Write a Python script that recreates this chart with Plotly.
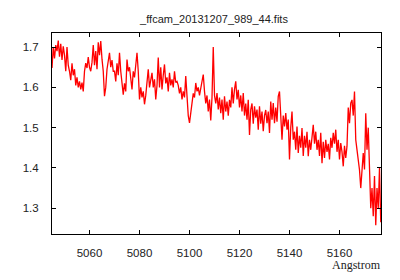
import numpy as np
import plotly.graph_objects as go

# Wavelength grid (Angstrom), 0.5 A sampling starting at 5045
wave_start = 5045.0
wave_step = 0.5

flux = [
    1.648, 1.700, 1.672, 1.705, 1.690, 1.716, 1.676, 1.708, 1.668, 1.702,
    1.680, 1.640, 1.700, 1.655, 1.640, 1.618, 1.660, 1.630, 1.645, 1.605,
    1.625, 1.600, 1.615, 1.595, 1.612, 1.590, 1.640, 1.660, 1.648, 1.675,
    1.650, 1.640, 1.662, 1.705, 1.655, 1.690, 1.645, 1.712, 1.680, 1.715,
    1.670, 1.640, 1.578, 1.600, 1.645, 1.665, 1.686, 1.650, 1.668, 1.640,
    1.640, 1.615, 1.660, 1.630, 1.686, 1.640, 1.600, 1.582, 1.610, 1.590,
    1.669, 1.640, 1.650, 1.612, 1.595, 1.640, 1.625, 1.655, 1.686, 1.640,
    1.570, 1.600, 1.575, 1.590, 1.558, 1.580, 1.620, 1.645, 1.600, 1.615,
    1.636, 1.600, 1.620, 1.570, 1.605, 1.674, 1.600, 1.650, 1.595, 1.630,
    1.657, 1.610, 1.625, 1.590, 1.636, 1.605, 1.620, 1.600, 1.640, 1.612,
    1.615, 1.605, 1.585, 1.600, 1.570, 1.590, 1.575, 1.628, 1.560, 1.530,
    1.512, 1.540, 1.560, 1.585, 1.575, 1.611, 1.590, 1.600, 1.580, 1.600,
    1.610, 1.632, 1.590, 1.560, 1.580, 1.540, 1.570, 1.518, 1.575, 1.700,
    1.580, 1.560, 1.586, 1.545, 1.575, 1.536, 1.570, 1.520, 1.578, 1.540,
    1.565, 1.530, 1.569, 1.550, 1.600, 1.560, 1.595, 1.615, 1.570, 1.594,
    1.550, 1.580, 1.540, 1.586, 1.530, 1.560, 1.520, 1.569, 1.482, 1.545,
    1.560, 1.510, 1.553, 1.525, 1.545, 1.495, 1.553, 1.510, 1.540, 1.491,
    1.530, 1.544, 1.511, 1.540, 1.487, 1.565, 1.520, 1.561, 1.511, 1.550,
    1.515, 1.578, 1.590, 1.536, 1.470, 1.530, 1.503, 1.536, 1.495, 1.520,
    1.421, 1.500, 1.540, 1.470, 1.490, 1.445, 1.503, 1.437, 1.480, 1.450,
    1.499, 1.430, 1.480, 1.450, 1.490, 1.429, 1.470, 1.445, 1.485, 1.507,
    1.460, 1.490, 1.445, 1.470, 1.430, 1.487, 1.412, 1.465, 1.425, 1.470,
    1.440, 1.460, 1.421, 1.475, 1.450, 1.487, 1.460, 1.495, 1.440, 1.470,
    1.421, 1.462, 1.440, 1.404, 1.455, 1.425, 1.454, 1.550, 1.511, 1.561,
    1.569, 1.530, 1.590, 1.470, 1.445, 1.421, 1.395, 1.350, 1.410, 1.437,
    1.396, 1.536, 1.445, 1.500, 1.400, 1.300, 1.350, 1.280, 1.380, 1.258,
    1.350, 1.300, 1.400, 1.265,
]

wavelength = wave_start + wave_step * np.arange(len(flux))

x_ticks = [5060, 5080, 5100, 5120, 5140, 5160]
y_ticks = [1.3, 1.4, 1.5, 1.6, 1.7]
title_text = "_ffcam_20131207_989_44.fits"
x_label = "Angstrom"

fig = go.Figure()
fig.add_trace(go.Scatter(
    x=wavelength, y=flux, mode="lines",
    line=dict(color="#ff0000", width=1.3),
    hoverinfo="skip", showlegend=False,
))

axis_common = dict(
    showline=True, linecolor="black", linewidth=1, mirror="ticks",
    ticks="inside", ticklen=4, tickcolor="black", tickwidth=1,
    showgrid=False, zeroline=False,
    tickfont=dict(family="Liberation Sans", size=11.5, color="#222222"),
)

fig.update_layout(
    width=400, height=280,
    margin=dict(l=52, r=19, t=33, b=46),
    paper_bgcolor="white", plot_bgcolor="white",
    title=dict(text=title_text, x=0.535, xanchor="center", y=1 - 19/280, yanchor="middle",
               font=dict(family="Liberation Sans", size=11, color="#222222")),
    xaxis=dict(range=[5045, 5176.6], tickvals=x_ticks, ticklabelstandoff=8, **axis_common),
    yaxis=dict(range=[1.236, 1.735], tickvals=y_ticks, tickformat=".1f", ticklabelstandoff=10, **axis_common),
    annotations=[dict(
        text=x_label, xref="paper", yref="paper", x=1.006, xanchor="right",
        y=-31/201, yanchor="middle", showarrow=False,
        font=dict(family="Liberation Serif", size=12, color="#222222"),
    )],
)

fig.write_html("out.html", config={"displayModeBar": False},
               post_script="document.body.style.margin='0';")
